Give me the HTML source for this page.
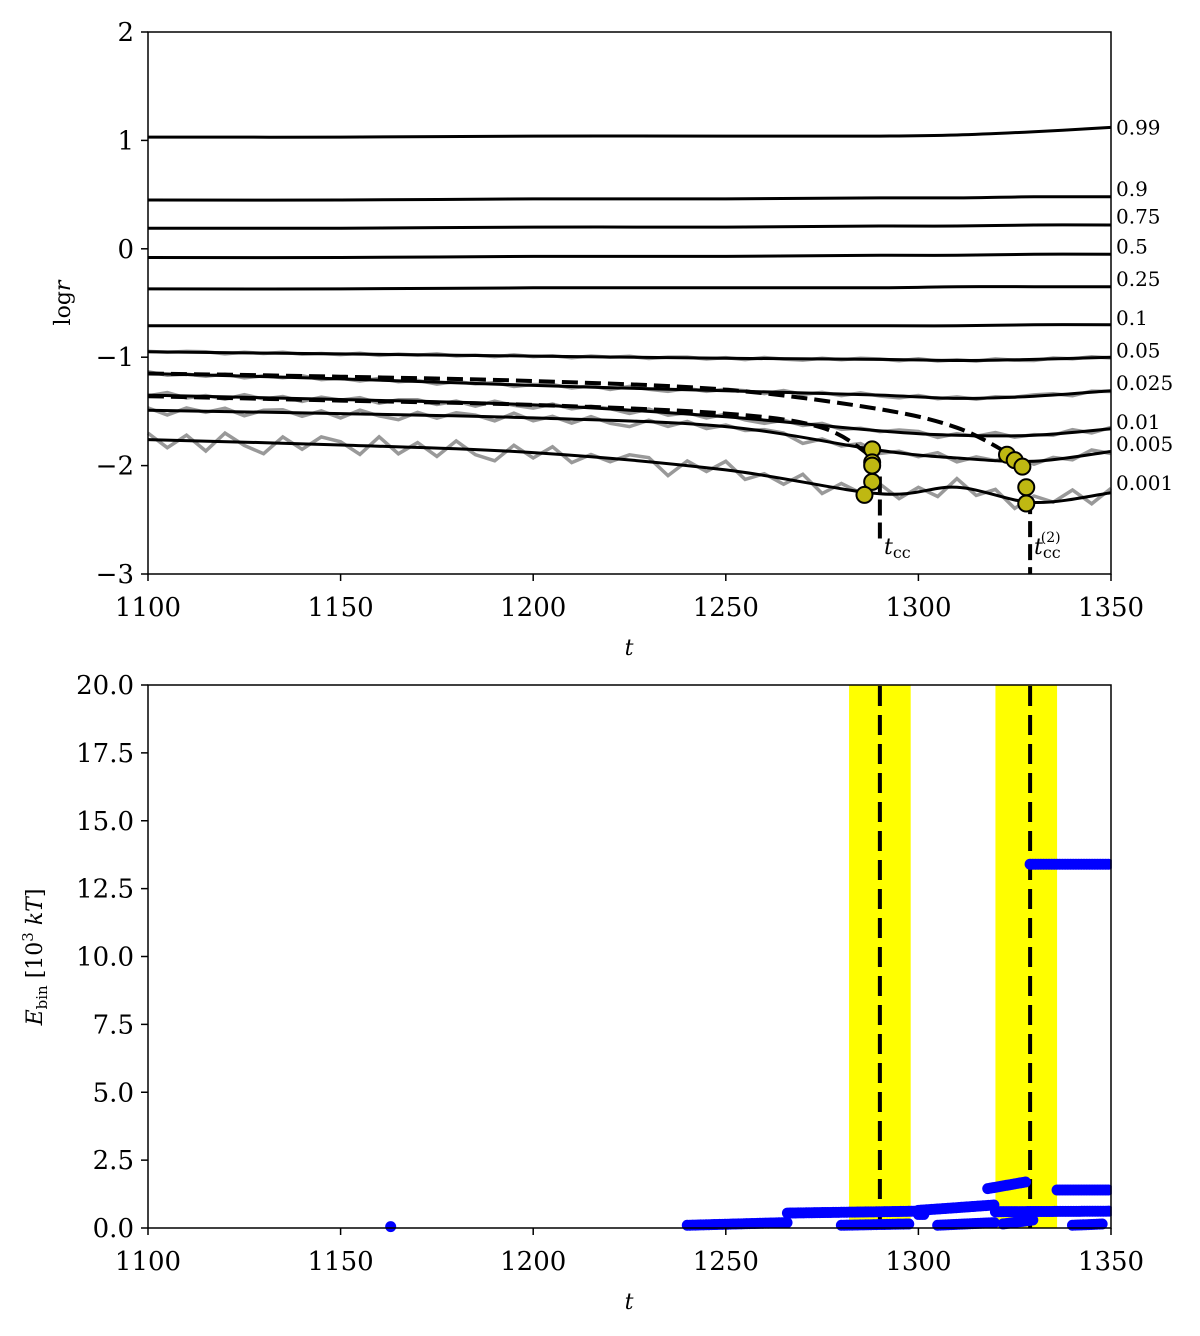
<!DOCTYPE html>
<html><head><meta charset="utf-8"><style>
body{margin:0;background:#fff}
svg{display:block;font-family:"DejaVu Serif","Liberation Serif",serif}
</style></head><body>
<svg id="c" width="1200" height="1336" viewBox="0 0 1200 1336" xmlns="http://www.w3.org/2000/svg">
<g id="topPanel"></g>
<g id="botPanel"></g>
</svg>
<script>
// ---- top panel data ----
const lineT = [1100,1150,1200,1250,1290,1310,1330,1350];
const fracLabels = ["0.99","0.9","0.75","0.5","0.25","0.1","0.05","0.025","0.01","0.005","0.001"];
const fracValues = [
 [1.03,1.03,1.04,1.04,1.04,1.05,1.08,1.12],
 [0.45,0.45,0.46,0.46,0.47,0.47,0.48,0.48],
 [0.19,0.19,0.20,0.20,0.21,0.21,0.22,0.22],
 [-0.08,-0.08,-0.07,-0.07,-0.06,-0.06,-0.05,-0.05],
 [-0.37,-0.37,-0.36,-0.36,-0.36,-0.35,-0.35,-0.35],
 [-0.71,-0.71,-0.71,-0.71,-0.71,-0.71,-0.70,-0.70],
 [-0.95,-0.97,-0.99,-1.01,-1.02,-1.03,-1.02,-1.00],
 [-1.15,-1.20,-1.26,-1.31,-1.35,-1.38,-1.36,-1.31],
 [-1.35,-1.39,-1.44,-1.55,-1.68,-1.72,-1.72,-1.66],
 [-1.49,-1.52,-1.56,-1.64,-1.86,-1.93,-1.96,-1.87],
 [-1.76,-1.81,-1.88,-2.04,-2.26,-2.20,-2.34,-2.25]
];
const labelY = [1.12,0.55,0.30,0.02,-0.28,-0.64,-0.94,-1.24,-1.60,-1.80,-2.16];
const noiseT = [1100,1105,1110,1115,1120,1125,1130,1135,1140,1145,1150,1155,1160,1165,1170,1175,1180,1185,1190,1195,1200,1205,1210,1215,1220,1225,1230,1235,1240,1245,1250,1255,1260,1265,1270,1275,1280,1285,1290,1295,1300,1305,1310,1315,1320,1325,1330,1335,1340,1345,1350];
const noise = [0.03,-0.02,0.06,0.05,-0.10,0.05,-0.03,0.08,-0.06,0.02,-0.05,0.07,-0.08,0.04,-0.02,0.09,-0.06,0.03,-0.07,0.08,-0.04,0.05,-0.09,0.06,-0.02,0.07,-0.08,0.04,0.06,-0.07,0.05,-0.09,0.08,-0.03,-0.10,0.06,-0.05,0.07,0.03,-0.08,0.09,-0.06,0.05,-0.07,0.08,-0.04,-0.09,0.06,-0.05,0.07,-0.06];
const noisyIdx = [6,7,8,9,10];
const noiseAmp = [0.12,0.2,0.3,0.45,1.0];
const dash1T=[1100,1150,1200,1250,1290,1310,1323], dash1V=[-1.15,-1.18,-1.22,-1.30,-1.48,-1.65,-1.88];
const dash2T=[1100,1150,1200,1250,1275,1288], dash2V=[-1.36,-1.40,-1.44,-1.52,-1.65,-1.92];
const circT=[1288,1288,1288,1288,1286,1323,1325,1327,1328,1328];
const circV=[-1.85,-1.97,-2.00,-2.15,-2.27,-1.90,-1.95,-2.01,-2.20,-2.35];
const xTicks=[1100,1150,1200,1250,1300,1350];
const yTicksTop=[2,1,0,-1,-2,-3];
const yTickLblTop=["2","1","0","\u22121","\u22122","\u22123"];
// ---- bottom panel data ----
const bandStart=[1282,1320], bandEnd=[1298,1336];
const tcc=[1290,1329];
const yTicksBot=[0,2.5,5,7.5,10,12.5,15,17.5,20];
const yTickLblBot=["0.0","2.5","5.0","7.5","10.0","12.5","15.0","17.5","20.0"];
const segStart=[1163,1240,1266,1300,1320,1318,1329,1336,1280,1305,1322,1340,1300,1328];
const segEnd  =[1163,1266,1300,1320,1350,1328,1350,1350,1298,1320,1330,1348,1302,1328];
const segV0   =[0.05,0.1,0.55,0.65,0.6,1.45,13.4,1.4,0.1,0.1,0.15,0.1,0.5,0.3];
const segV1   =[0.05,0.2,0.62,0.85,0.62,1.7,13.4,1.4,0.15,0.2,0.3,0.15,0.5,0.3];

const NS="http://www.w3.org/2000/svg";
function mk(p,tag,a){const e=document.createElementNS(NS,tag);for(const k in a)e.setAttribute(k,a[k]);p.appendChild(e);return e;}
const X=t=>148+(t-1100)*963/250;
const YT=v=>32+(2-v)*108.4;
const YB=v=>1228-v*543/20;
const gTop=document.getElementById('topPanel'), gBot=document.getElementById('botPanel');
function interp(ts,vs,t){for(let i=0;i<ts.length-1;i++){if(t<=ts[i+1]){const f=(t-ts[i])/(ts[i+1]-ts[i]);return vs[i]+f*(vs[i+1]-vs[i]);}}return vs[vs.length-1];}
function smoothPath(ts,vs,Y){const px=ts.map(X),py=vs.map(Y);let d="M"+px[0].toFixed(1)+","+py[0].toFixed(1);
 for(let i=0;i<px.length-1;i++){const i0=Math.max(0,i-1),i3=Math.min(px.length-1,i+2);
  const c1x=px[i]+(px[i+1]-px[i0])/6,c1y=py[i]+(py[i+1]-py[i0])/6;
  const c2x=px[i+1]-(px[i3]-px[i])/6,c2y=py[i+1]-(py[i3]-py[i])/6;
  d+="C"+c1x.toFixed(1)+","+c1y.toFixed(1)+" "+c2x.toFixed(1)+","+c2y.toFixed(1)+" "+px[i+1].toFixed(1)+","+py[i+1].toFixed(1);}
 return d;}

noisyIdx.forEach((fi,k)=>{let d="";noiseT.forEach((t,j)=>{const v=interp(lineT,fracValues[fi],t)+noise[(j+k*7)%noise.length]*noiseAmp[k];d+=(j?"L":"M")+X(t).toFixed(1)+","+YT(v).toFixed(1);});
 const p=mk(gTop,'path',{d,fill:'none',stroke:'#999',"stroke-width":3.5});
 
 });
fracValues.forEach((vs,i)=>{const p=mk(gTop,'path',{d:smoothPath(lineT,vs,YT),fill:'none',stroke:'#000',"stroke-width":3});
 
 
 const tx=mk(gTop,'text',{x:1116,y:YT(labelY[i])+7,"font-size":20});tx.textContent=fracLabels[i];
 
 });
[[dash1T,dash1V],[dash2T,dash2V]].forEach((dd,i)=>{const p=mk(gTop,'path',{d:smoothPath(dd[0],dd[1],YT),fill:'none',stroke:'#000',"stroke-width":4,"stroke-dasharray":"16,7"});
 
 });
const vl1=mk(gTop,'line',{x1:X(tcc[0]),x2:X(tcc[0]),y1:YT(-2.1),y2:YT(-2.7),stroke:'#000',"stroke-width":4,"stroke-dasharray":"16,7"});


const vl2=mk(gTop,'line',{x1:X(tcc[1]),x2:X(tcc[1]),y1:YT(-2.3),y2:YT(-3),stroke:'#000',"stroke-width":4,"stroke-dasharray":"16,7"});


circT.forEach((t,i)=>{const c=mk(gTop,'circle',{cx:X(t),cy:YT(circV[i]),r:8,fill:'#bfb812',stroke:'#000',"stroke-width":2});
 
 });
const l1=mk(gTop,'text',{x:884,y:554,"font-size":22,"font-style":"italic"});l1.innerHTML='t<tspan font-style="normal" font-size="16" dy="4">cc</tspan>';


const l2=mk(gTop,'text',{x:1034,y:554,"font-size":22,"font-style":"italic"});l2.innerHTML='t<tspan font-style="normal" font-size="16" dy="4">cc</tspan><tspan font-style="normal" font-size="14" dx="-20" dy="-16">(2)</tspan>';



function axes(g,y0,y1,yt,ylbl,Y,name){
 const r=mk(g,'rect',{x:148,y:y0,width:963,height:y1-y0,fill:'none',stroke:'#000',"stroke-width":1.5});
 
 
 xTicks.forEach(t=>{mk(g,'line',{x1:X(t),x2:X(t),y1:y1,y2:y1+7,stroke:'#000',"stroke-width":1.5});
  const tx=mk(g,'text',{x:X(t),y:y1+42,"font-size":26,"text-anchor":"middle"});tx.textContent=t;
  
  });
 yt.forEach((v,i)=>{mk(g,'line',{x1:141,x2:148,y1:Y(v),y2:Y(v),stroke:'#000',"stroke-width":1.5});
  const tx=mk(g,'text',{x:134,y:Y(v)+9,"font-size":26,"text-anchor":"end"});tx.textContent=ylbl[i];
  
  });
 const xt=mk(g,'text',{x:629,y:y1+81,"font-size":22,"font-style":"italic","text-anchor":"middle"});xt.textContent='t';
 
 
}
axes(gTop,32,574,yTicksTop,yTickLblTop,YT,'top');
const yl=mk(gTop,'text',{transform:'translate(70,303) rotate(-90)',"font-size":22,"text-anchor":"middle"});yl.innerHTML='log<tspan font-style="italic">r</tspan>';



bandStart.forEach((s,i)=>{const r=mk(gBot,'rect',{x:X(s),y:685,width:X(bandEnd[i])-X(s),height:543,fill:'#ffff00'});
 
 });
tcc.forEach(t=>{const l=mk(gBot,'line',{x1:X(t),x2:X(t),y1:YB(0),y2:YB(20),stroke:'#000',"stroke-width":4,"stroke-dasharray":"20,9"});
 
 });
segStart.forEach((s,i)=>{for(let t=s;t<=segEnd[i];t+=0.7){const f=segEnd[i]>s?(t-s)/(segEnd[i]-s):0;const v=segV0[i]+f*(segV1[i]-segV0[i]);
 const c=mk(gBot,'circle',{cx:X(t),cy:YB(v),r:5.5,fill:'#0000ff'});
 
 }});
const cl=mk(gBot,'rect',{x:1111.8,y:680,width:20,height:560,fill:'#fff'});


axes(gBot,685,1228,yTicksBot,yTickLblBot,YB,'bottom');
const yl2=mk(gBot,'text',{transform:'translate(42,957) rotate(-90)',"font-size":22,"text-anchor":"middle"});
yl2.innerHTML='<tspan font-style="italic">E</tspan><tspan font-size="15" dy="5">bin</tspan><tspan dy="-5"> [10</tspan><tspan font-size="15" dy="-9">3</tspan><tspan dy="9" font-style="italic"> kT</tspan>]';


</script>
</body></html>
